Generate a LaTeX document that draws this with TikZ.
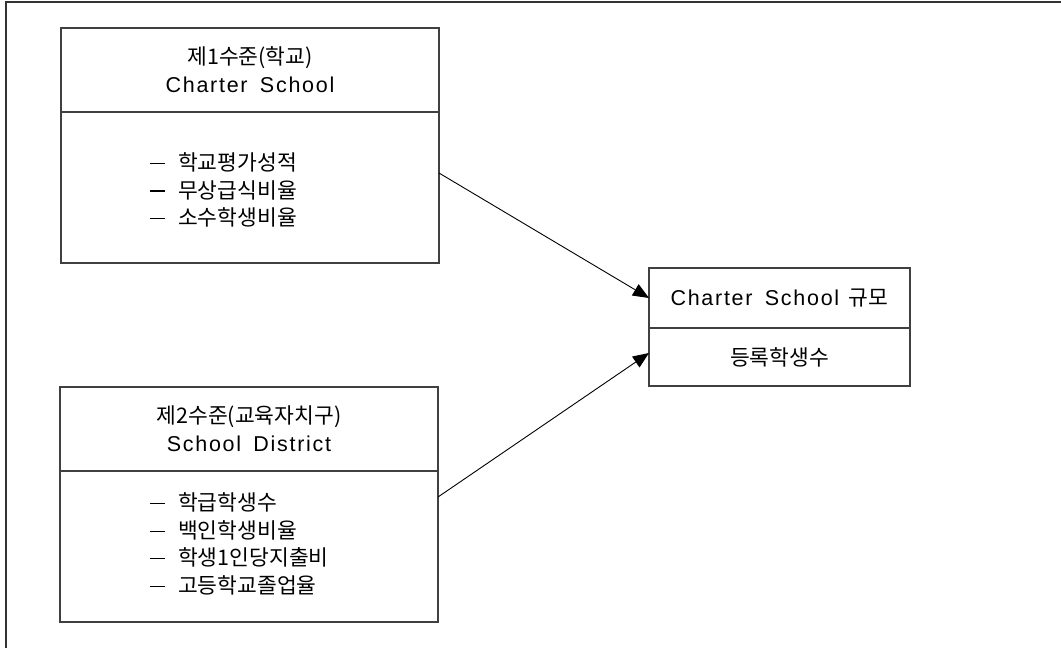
\documentclass[tikz,border=0pt]{standalone}
\usepackage{fontspec}
\setmainfont{Noto Sans CJK KR}
\newfontfamily\latinfont[LetterSpace=8,WordSpace=1.6]{Liberation Sans}
\usetikzlibrary{arrows.meta,positioning}

\begin{document}
\begin{tikzpicture}[x=1pt,y=-1pt,font=\fontsize{21.5}{28}\selectfont]
       \tikzstyle{box}=[draw=black!75,line width=1.2pt,outer sep=0pt,inner sep=0pt]
       \tikzstyle{head}=[box,minimum width=378pt,minimum height=84pt,align=center]
       \tikzstyle{body}=[box,minimum width=378pt,minimum height=151pt]
       \tikzstyle{items}=[anchor=west,align=left,inner sep=0pt,
                          font=\fontsize{21.5}{27.5}\selectfont]
       \tikzstyle{conn}=[-{Triangle[length=16pt,width=13pt]},line width=0.9pt]
       \newcommand{\itm}[1]{\rule[0.3em]{15pt}{1.3pt}\hspace{13pt}#1}

       \useasboundingbox (0,0) rectangle (1061,648);
       \draw[black!80,line width=2pt] (6,648) |- (1061,1.5);

       % first level
       \node[head] (lvl1head) at (250,70) {제1수준(학교)\\{\latinfont Charter School}};
       \node[body] (lvl1body) [below=0pt of lvl1head] {};
       \node[items] (lvl1list) at (150,190)
             {\itm{학교평가성적}\\ \itm{무상급식비율}\\ \itm{소수학생비율}};

       % second level
       \node[head] (lvl2head) at (249,429) {제2수준(교육자치구)\\{\latinfont School District}};
       \node[body] (lvl2body) [below=0pt of lvl2head] {};
       \node[items] (lvl2list) at (150,544)
             {\itm{학급학생수}\\ \itm{백인학생비율}\\ \itm{학생1인당지출비}\\ \itm{고등학교졸업율}};

       % outcome
       \node[box,minimum width=261pt,minimum height=60pt] (sizehead) at (779.5,298)
             {{\latinfont Charter School}\ \ 규모};
       \node[box,minimum width=261pt,minimum height=58pt] (sizebody) [below=0pt of sizehead]
             {등록학생수};

       \path[conn]
       ([yshift=14.5pt]lvl1body.east) edge (sizehead.west)
       ([yshift=49.5pt]lvl2body.east) edge ([yshift=4pt]sizebody.west);
     \end{tikzpicture}
\end{document}
